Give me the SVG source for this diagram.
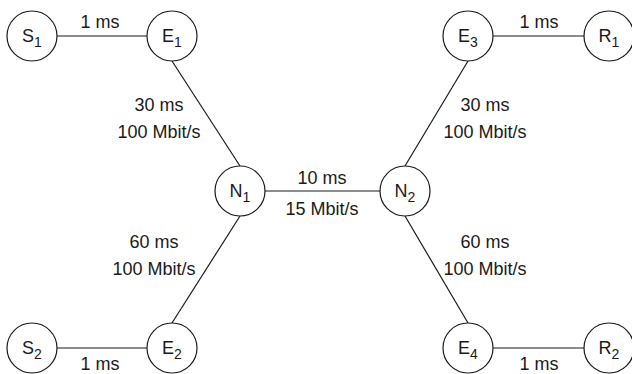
<svg xmlns="http://www.w3.org/2000/svg" width="632" height="374" viewBox="0 0 632 374">
  <style>
    .node circle { fill: #ffffff; stroke: #1a1a1a; stroke-width: 1.2; }
    .node text { font-family: "Liberation Sans", Arial, sans-serif; font-size: 18px; fill: #1a1a1a; text-anchor: middle; }
    .sub { font-size: 14px; }
    .links line { stroke: #1a1a1a; stroke-width: 1.2; }
    .lbl { font-family: "Liberation Sans", Arial, sans-serif; font-size: 18px; fill: #1a1a1a; text-anchor: middle; }
  </style>
  <rect width="632" height="374" fill="#ffffff"/>

  <!-- connectors -->
  <g id="links" class="links">
    <line x1="57" y1="36" x2="147" y2="36"/>
    <line x1="493" y1="36" x2="584" y2="36"/>
    <line x1="57" y1="348" x2="147" y2="348"/>
    <line x1="493" y1="348" x2="584" y2="348"/>
    <line x1="265" y1="191" x2="380" y2="191"/>
    <line x1="172" y1="61" x2="240" y2="166"/>
    <line x1="468" y1="61" x2="405" y2="166"/>
    <line x1="240" y1="216" x2="172" y2="323"/>
    <line x1="405" y1="216" x2="468" y2="323"/>
  </g>

  <!-- link labels -->
  <g id="labels">
    <text class="lbl" x="100" y="28">1 ms</text>
    <text class="lbl" x="539" y="28">1 ms</text>
    <text class="lbl" x="100" y="370">1 ms</text>
    <text class="lbl" x="539" y="370">1 ms</text>
    <text class="lbl" x="159" y="111">30 ms</text>
    <text class="lbl" x="159" y="138">100 Mbit/s</text>
    <text class="lbl" x="485" y="111">30 ms</text>
    <text class="lbl" x="485" y="138">100 Mbit/s</text>
    <text class="lbl" x="154" y="248">60 ms</text>
    <text class="lbl" x="154" y="275">100 Mbit/s</text>
    <text class="lbl" x="485" y="248">60 ms</text>
    <text class="lbl" x="485" y="275">100 Mbit/s</text>
    <text class="lbl" x="322" y="184">10 ms</text>
    <text class="lbl" x="322" y="215">15 Mbit/s</text>
  </g>

  <!-- nodes -->
  <g id="S1" class="node"><circle cx="32" cy="36" r="25"/><text x="32" y="42">S<tspan class="sub" dy="5">1</tspan></text></g>
  <g id="E1" class="node"><circle cx="172" cy="36" r="25"/><text x="172" y="42">E<tspan class="sub" dy="5">1</tspan></text></g>
  <g id="E3" class="node"><circle cx="468" cy="36" r="25"/><text x="468" y="42">E<tspan class="sub" dy="5">3</tspan></text></g>
  <g id="R1" class="node"><circle cx="609" cy="36" r="25"/><text x="609" y="42">R<tspan class="sub" dy="5">1</tspan></text></g>
  <g id="N1" class="node"><circle cx="240" cy="191" r="25"/><text x="240" y="197">N<tspan class="sub" dy="5">1</tspan></text></g>
  <g id="N2" class="node"><circle cx="405" cy="191" r="25"/><text x="405" y="197">N<tspan class="sub" dy="5">2</tspan></text></g>
  <g id="S2" class="node"><circle cx="32" cy="348" r="25"/><text x="32" y="354">S<tspan class="sub" dy="5">2</tspan></text></g>
  <g id="E2" class="node"><circle cx="172" cy="348" r="25"/><text x="172" y="354">E<tspan class="sub" dy="5">2</tspan></text></g>
  <g id="E4" class="node"><circle cx="468" cy="348" r="25"/><text x="468" y="354">E<tspan class="sub" dy="5">4</tspan></text></g>
  <g id="R2" class="node"><circle cx="609" cy="348" r="25"/><text x="609" y="354">R<tspan class="sub" dy="5">2</tspan></text></g>
</svg>
